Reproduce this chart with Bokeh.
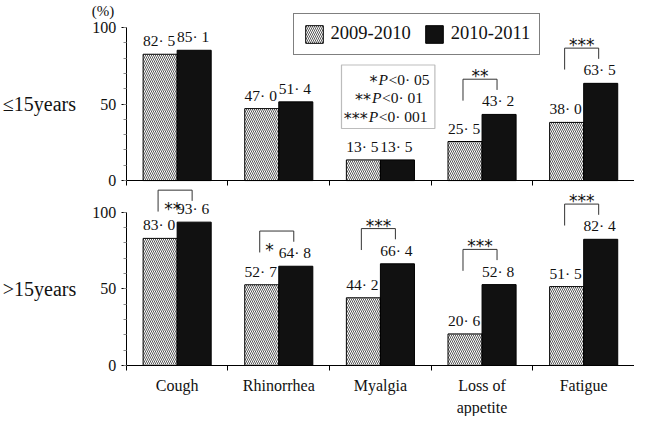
import numpy as np
from bokeh.plotting import figure
from bokeh.models import (Range1d, FixedTicker, Label, Legend, LegendItem,
                          BoxAnnotation, LinearAxis)
from bokeh.embed import file_html
from bokeh.resources import INLINE
from bokeh.core.properties import value

# ---------------- data ----------------
categories = ["Cough", "Rhinorrhea", "Myalgia", "Loss of\nappetite", "Fatigue"]
series_names = ["2009-2010", "2010-2011"]
young_2009 = [82.5, 47.0, 13.5, 25.5, 38.0]
young_2010 = [85.1, 51.4, 13.5, 43.2, 63.5]
older_2009 = [83.0, 52.7, 44.2, 20.6, 51.5]
older_2010 = [93.6, 64.8, 66.4, 52.8, 82.4]
young_sig = ["", "", "", "**", "***"]
older_sig = ["**", "*", "***", "***", "***"]
older_sig_inside = [True, True, False, False, False]
panel_labels = ["\u226415years", ">15years"]
y_ticks = [0, 50, 100]
y_minor = list(range(0, 101, 10))
p_stars = ["*", "**", "***"]
p_rest = ["<0\u00b7 05", "<0\u00b7 01", "<0\u00b7 001"]

# ---------------- geometry / style ----------------
SERIF = "Liberation Serif"
STAR_FONT = "DejaVu Sans"
W, H = 634, 416
SX, SY = W / 650, H / 432
axis_px = 129 * SX
n = len(categories)
cat_px = (W - axis_px) / n
unit_px = 1.59 * SY
top_zero = 187 * SY
bot_zero = 379 * SY
BAR_W = 0.335

idx = np.arange(n)
x_left = idx + 0.5 - BAR_W / 2
x_right = idx + 0.5 + BAR_W / 2

p = figure(width=W, height=H,
           x_range=Range1d(-axis_px / cat_px, n),
           y_range=Range1d(-(H - bot_zero) / unit_px, bot_zero / unit_px),
           x_axis_location=None, y_axis_location=None,
           output_backend="svg", toolbar_location=None,
           min_border=0)
p.extra_y_ranges = {"top": Range1d(-(H - top_zero) / unit_px, top_zero / unit_px)}
p.grid.visible = False
p.outline_line_color = None
p.background_fill_color = "white"
p.border_fill_color = "white"


def fmt(v):
    return f"{v:.1f}".replace(".", "\u00b7 ")


def draw_panel(v1, v2, sig, inside, label, rname, show_cats):
    kw = {} if rname is None else {"y_range_name": rname}
    r1 = p.vbar(x=x_left, top=v1, bottom=0, width=BAR_W, fill_color="white",
                hatch_pattern="left_diagonal_line", hatch_color="#444444",
                hatch_scale=4, hatch_weight=0.9, line_color="black",
                line_width=1, **kw)
    r2 = p.vbar(x=x_right, top=v2, bottom=0, width=BAR_W, fill_color="#111111",
                line_color="black", line_width=1, **kw)

    p.text(x=list(x_left) + list(x_right), y=list(v1) + list(v2),
           text=[fmt(v) for v in v1] + [fmt(v) for v in v2],
           text_align="center", text_baseline="bottom", x_offset=-1, y_offset=-5,
           text_font=value(SERIF), text_font_size="15.5px",
           text_color="#111111", **kw)

    # significance brackets
    bxs, bys, sx, sy, st, soff = [], [], [], [], [], []
    for i in range(n):
        if not sig[i]:
            continue
        top = min(max(v1[i], v2[i]) + 23, 114.5)
        xl, xr_ = x_left[i] - 0.02, x_right[i] - 0.02
        bxs.append([xl, xl, xr_, xr_])
        bys.append([top - 14, top, top, top - 7])
        if inside[i]:
            sx.append(xl + 0.045 + 0.05 * len(sig[i]))
            soff.append(19)
        else:
            sx.append((xl + xr_) / 2)
            soff.append(-3)
        sy.append(top)
        st.append(sig[i])
    if bxs:
        p.multi_line(xs=bxs, ys=bys, line_color="#333333", line_width=1, **kw)
        p.text(x=sx, y=sy, text=st, y_offset=soff, text_align="center",
               text_baseline="alphabetic", text_font=value(STAR_FONT),
               text_font_size="17px", text_color="#111111", **kw)

    # y axis at x = 0
    ya = LinearAxis(fixed_location=0, bounds=(0, 100),
                    ticker=FixedTicker(ticks=y_ticks, minor_ticks=y_minor), **kw)
    ya.major_tick_out = 5
    ya.major_tick_in = 0
    ya.minor_tick_out = 3
    ya.minor_tick_in = 0
    ya.minor_tick_line_color = "#888888"
    ya.major_label_text_font = SERIF
    ya.major_label_text_font_size = "16px"
    ya.major_label_text_color = "#111111"
    ya.major_label_standoff = 5
    p.add_layout(ya, "left")

    # x axis at y = 0
    if show_cats:
        xa = LinearAxis(fixed_location=0, bounds=(0, n),
                        ticker=FixedTicker(ticks=list(idx + 0.5),
                                           minor_ticks=list(range(n + 1))), **kw)
        xa.major_label_overrides = {float(i + 0.5): c for i, c in enumerate(categories)}
        xa.major_label_text_font = SERIF
        xa.major_label_text_font_size = "16px"
        xa.major_label_text_color = "#111111"
        xa.major_label_text_line_height = 1.25
        xa.major_label_standoff = 7
    else:
        xa = LinearAxis(fixed_location=0, bounds=(0, n),
                        ticker=FixedTicker(ticks=[], minor_ticks=list(range(n + 1))), **kw)
    xa.major_tick_out = 0
    xa.major_tick_in = 0
    xa.major_tick_line_color = None
    xa.minor_tick_out = 5
    xa.minor_tick_in = 0
    p.add_layout(xa, "below")

    # panel label on the left
    p.add_layout(Label(x=-1.215, y=50, text=label, text_align="left",
                       text_baseline="middle", text_font=SERIF,
                       text_font_size="20px", text_color="#111111", **kw))
    return r1, r2


r1, r2 = draw_panel(young_2009, young_2010, young_sig, [False] * n,
                    panel_labels[0], "top", False)
draw_panel(older_2009, older_2010, older_sig, older_sig_inside,
           panel_labels[1], None, True)

# "(%)" unit label
p.add_layout(Label(x=-0.23, y=110.5, text="(%)", text_align="center",
                   text_baseline="middle", text_font=SERIF, y_range_name="top",
                   text_font_size="15px", text_color="#111111"))

# legend
legend = Legend(items=[LegendItem(label=series_names[0], renderers=[r1]),
                       LegendItem(label=series_names[1], renderers=[r2])],
                orientation="horizontal",
                location=(300 * SX, H - 57 * SY),
                glyph_width=22, glyph_height=22, label_standoff=6, spacing=12,
                padding=9, margin=0, label_text_font=SERIF,
                label_text_font_size="18.5px", label_text_color="#111111",
                border_line_color="black", border_line_width=1.2,
                background_fill_alpha=1.0)
p.add_layout(legend)

# p-value key box
p.add_layout(BoxAnnotation(left=2.117, right=3.036, bottom=34.0, top=75.5,
                           y_range_name="top", fill_alpha=0,
                           line_color="#222222", line_width=1.2))
p_y = [66.0, 54.1, 42.1]
p_x = [2.481, 2.418, 2.385]
for i in range(3):
    p.add_layout(Label(x=p_x[i], y=p_y[i], x_offset=-1, y_offset=-2, text=p_stars[i],
                       text_align="right", text_baseline="middle",
                       y_range_name="top", text_font=STAR_FONT,
                       text_font_size="16px", text_color="#111111"))
    p.add_layout(Label(x=p_x[i], y=p_y[i], text="P", text_align="left",
                       text_baseline="middle", y_range_name="top",
                       text_font=SERIF, text_font_style="italic",
                       text_font_size="15.5px", text_color="#111111"))
    p.add_layout(Label(x=p_x[i], y=p_y[i], x_offset=10, text=p_rest[i],
                       text_align="left", text_baseline="middle",
                       y_range_name="top", text_font=SERIF,
                       text_font_size="15.5px", text_color="#111111"))

open("out.html", "w").write(file_html(p, INLINE))
